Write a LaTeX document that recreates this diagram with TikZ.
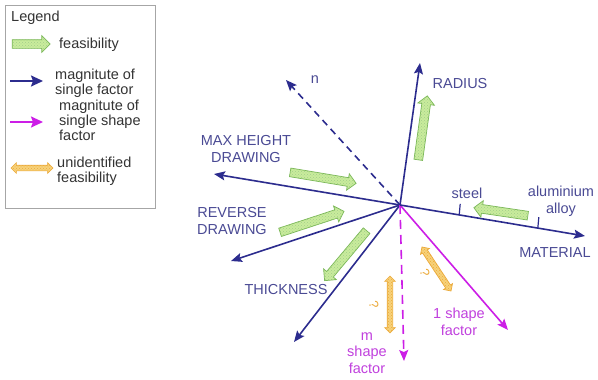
\documentclass[tikz,border=0pt]{standalone}
\usepackage{fontspec}
\setmainfont{Liberation Sans}
\usepackage{xcolor}
\usetikzlibrary{arrows.meta,positioning,calc,shapes.arrows,patterns}

\definecolor{navy}{HTML}{2C2C8E}
\definecolor{navytext}{HTML}{4A4A94}
\definecolor{shapecol}{HTML}{CC1EE6}
\definecolor{shapetext}{HTML}{C040DD}
\definecolor{feasfill}{HTML}{C9EC9C}
\definecolor{feasdraw}{HTML}{7CB85A}
\definecolor{unidfill}{HTML}{F7D27A}
\definecolor{uniddraw}{HTML}{EBAA3C}

% block arrow from first to second named point
\newcommand{\blockarrow}[3]{%
  \path let \p1=($(#3)-(#2)$), \n1={atan2(\y1,\x1)}, \n2={veclen(\x1,\y1)} in
    node[#1, rotate=\n1, minimum height=\n2] at ($(#2)!0.5!(#3)$) {};}

\begin{document}
\begin{tikzpicture}[x=1pt, y=-1pt,
  font=\fontsize{14.5}{16.5}\selectfont,
  axis/.style={navy, line width=1.6pt, -{Stealth[length=11pt,width=9pt,inset=2pt]}},
  shapeaxis/.style={shapecol, line width=1.6pt, -{Stealth[length=11pt,width=9pt,inset=2pt]}},
  legarrow/.style={line width=2pt, -{Stealth[length=12pt,width=11pt,inset=2pt]}},
  axislabel/.style={text=navytext, align=center, inner sep=1pt},
  shapelabel/.style={text=shapetext, align=center, inner sep=1pt},
  legendtext/.style={text=black!80, align=left, anchor=west, inner sep=0pt, font=\fontsize{14.5}{15}\selectfont},
  feas/.style={single arrow, draw=feasdraw, line width=0.7pt, inner sep=4pt, minimum width=16pt,
    single arrow head extend=4pt, single arrow head indent=0pt,
    preaction={fill=feasfill}, pattern=crosshatch dots, pattern color=feasdraw!70},
  unid/.style={double arrow, draw=uniddraw, line width=0.7pt, inner sep=2.5pt, minimum width=10pt,
    double arrow head extend=2.5pt,
    preaction={fill=unidfill}, pattern=crosshatch dots, pattern color=uniddraw},
  qmark/.style={text=uniddraw, inner sep=0pt, font=\fontsize{13}{13}\selectfont}
]
\useasboundingbox (0,0) rectangle (598,380);

% legend
\node[draw=black!35, line width=0.6pt, minimum width=150pt, minimum height=203pt, anchor=north west] (legend) at (5,5) {};
\node[legendtext] (legtitle) at (11,18) {Legend};
\coordinate (lf1) at (10,44); \coordinate (lf2) at (48,44);
\blockarrow{feas}{lf1}{lf2}
\node[legendtext] (legfeas) at (59,45) {feasibility};
\coordinate (lb1) at (10,81); \coordinate (lb2) at (43,81);
\draw[legarrow, navy] (lb1) -- (lb2);
\node[legendtext, align=left] (legsingle) at (55,83) {magnitute of\\single factor};
\coordinate (lm1) at (10,122); \coordinate (lm2) at (43,122);
\draw[legarrow, shapecol] (lm1) -- (lm2);
\node[legendtext, align=left] (legshape) at (59,120) {magnitute of\\single shape\\factor};
\coordinate (lu1) at (11,168); \coordinate (lu2) at (53,168);
\blockarrow{unid}{lu1}{lu2}
\node[legendtext, align=left] (legunid) at (57,171) {unidentified\\feasibility};

% origin and axis ends
\coordinate (O) at (400,205);
\coordinate (radius) at (420,63);
\coordinate (nend) at (286,80);
\coordinate (maxh) at (214,174);
\coordinate (rev) at (231,261);
\coordinate (thick) at (294,342);
\coordinate (mshape) at (404,361);
\coordinate (oneshape) at (508,330);
\coordinate (material) at (585,236);

\draw[axis] (O) -- (radius);
\draw[axis, dash pattern=on 7pt off 5pt] (O) -- (nend);
\draw[axis] (O) -- (maxh);
\draw[axis] (O) -- (rev);
\draw[axis] (O) -- (thick);
\draw[shapeaxis, dash pattern=on 9pt off 6pt] (O) -- (mshape);
\draw[shapeaxis] (O) -- (oneshape);
\draw[axis] (O) -- (material);

% ticks on material axis
\coordinate (steeltick) at ($(O)!0.32!(material)$);
\coordinate (alutick) at ($(O)!0.745!(material)$);
\draw[navy, line width=1.2pt] (steeltick) -- ++(1,-11);
\draw[navy, line width=1.2pt] (alutick) -- ++(1,-11);

% labels
\node[axislabel] (radiuslbl) at (460,84) {RADIUS};
\node[axislabel] (nlbl) at (315,80) {n};
\node[axislabel] (maxhlbl) at (246,149) {MAX HEIGHT\\DRAWING};
\node[axislabel] (revlbl) at (232,221) {REVERSE\\DRAWING};
\node[axislabel] (thicklbl) at (286,290) {THICKNESS};
\node[axislabel] (steellbl) at (467,193) {steel};
\node[axislabel] (alulbl) at (561,201) {aluminium\\alloy};
\node[axislabel] (matlbl) at (555,253) {MATERIAL};
\node[shapelabel] (mshapelbl) at (367,353) {m\\shape\\factor};
\node[shapelabel] (oneshapelbl) at (459,322) {1 shape\\factor};

% feasibility arrows
\coordinate (fr1) at (418,162); \coordinate (fr2) at (427,98);
\blockarrow{feas}{fr1}{fr2}
\coordinate (fm1) at (288,172); \coordinate (fm2) at (354,183);
\blockarrow{feas}{fm1}{fm2}
\coordinate (fv1) at (278,233); \coordinate (fv2) at (342,212);
\blockarrow{feas}{fv1}{fv2}
\coordinate (ft1) at (368,229); \coordinate (ft2) at (326,279);
\blockarrow{feas}{ft1}{ft2}
\coordinate (fa1) at (530,216); \coordinate (fa2) at (476,208);
\blockarrow{feas}{fa1}{fa2}

% unidentified feasibility
\coordinate (um1) at (390,276); \coordinate (um2) at (390,333);
\blockarrow{unid}{um1}{um2}
\coordinate (uo1) at (422,247); \coordinate (uo2) at (451,291);
\blockarrow{unid}{uo1}{uo2}
\node[qmark, rotate=-75] (qm) at (374,305) {?};
\node[qmark, rotate=-75] (qo) at (425,273) {?};
\end{tikzpicture}
\end{document}
